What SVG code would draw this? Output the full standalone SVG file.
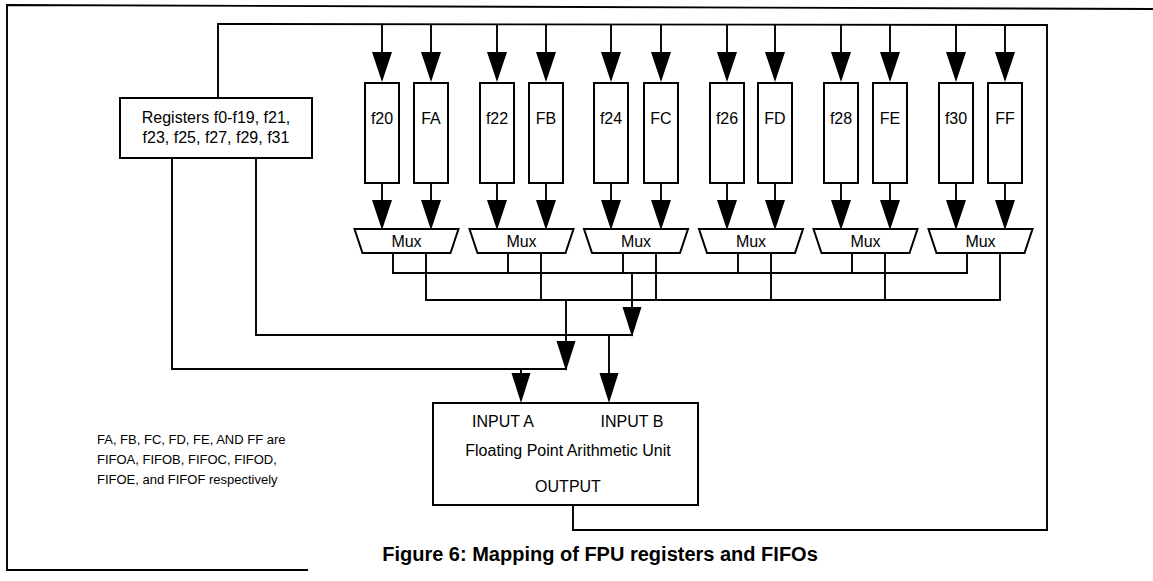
<svg xmlns="http://www.w3.org/2000/svg" xmlns:xlink="http://www.w3.org/1999/xlink" width="1153" height="581" viewBox="0 0 1153 581">
<style>
  .ln{fill:none;stroke:#000;stroke-width:1.9;stroke-linecap:square;stroke-linejoin:miter}
  .bx{fill:#fff;stroke:#000;stroke-width:2}
  .tx{font-family:"Liberation Sans",Arial,Helvetica,sans-serif;font-size:16px;fill:#000}
  .mid{text-anchor:middle}
  .note{font-family:"Liberation Sans",Arial,Helvetica,sans-serif;font-size:13px;fill:#000}
  .cap{font-family:"Liberation Sans",Arial,Helvetica,sans-serif;font-size:20px;font-weight:bold;fill:#000;text-anchor:middle}
  .ah{fill:#000}
</style>
<defs>
  <path id="ah" class="ah" d="M-10,0 L10,0 L0,30 Z"/>
  <path id="ahs" class="ah" d="M-9.5,0 L9.5,0 L0,30 Z"/>
</defs>
<rect width="1153" height="581" fill="#fff"/>

<g id="frame">
  <polyline class="ln" points="307,570 7,570 7,5 1153,9" stroke-width="2"/>
</g>

<g id="connectors">
  <!-- feedback loop from FPU output -->
  <polyline class="ln" points="573,505 573,530 1047,530 1047,25 218,24 218,98"/>
  <!-- top arrows into FIFOs -->
  <g>
    <line class="ln" x1="382" y1="25" x2="382" y2="52"/><use xlink:href="#ah" x="382" y="52"/>
    <line class="ln" x1="431" y1="25" x2="431" y2="52"/><use xlink:href="#ah" x="431" y="52"/>
    <line class="ln" x1="497" y1="25" x2="497" y2="52"/><use xlink:href="#ah" x="497" y="52"/>
    <line class="ln" x1="546" y1="25" x2="546" y2="52"/><use xlink:href="#ah" x="546" y="52"/>
    <line class="ln" x1="611" y1="25" x2="611" y2="52"/><use xlink:href="#ah" x="611" y="52"/>
    <line class="ln" x1="661" y1="25" x2="661" y2="52"/><use xlink:href="#ah" x="661" y="52"/>
    <line class="ln" x1="727" y1="25" x2="727" y2="52"/><use xlink:href="#ah" x="727" y="52"/>
    <line class="ln" x1="775" y1="25" x2="775" y2="52"/><use xlink:href="#ah" x="775" y="52"/>
    <line class="ln" x1="841" y1="25" x2="841" y2="52"/><use xlink:href="#ah" x="841" y="52"/>
    <line class="ln" x1="890" y1="25" x2="890" y2="52"/><use xlink:href="#ah" x="890" y="52"/>
    <line class="ln" x1="956" y1="25" x2="956" y2="52"/><use xlink:href="#ah" x="956" y="52"/>
    <line class="ln" x1="1005" y1="25" x2="1005" y2="52"/><use xlink:href="#ah" x="1005" y="52"/>
  </g>
  <!-- FIFO to mux arrows -->
  <g>
    <line class="ln" x1="382" y1="183" x2="382" y2="200"/><use xlink:href="#ah" x="382" y="200"/>
    <line class="ln" x1="431" y1="183" x2="431" y2="200"/><use xlink:href="#ah" x="431" y="200"/>
    <line class="ln" x1="497" y1="183" x2="497" y2="200"/><use xlink:href="#ah" x="497" y="200"/>
    <line class="ln" x1="546" y1="183" x2="546" y2="200"/><use xlink:href="#ah" x="546" y="200"/>
    <line class="ln" x1="611" y1="183" x2="611" y2="200"/><use xlink:href="#ah" x="611" y="200"/>
    <line class="ln" x1="661" y1="183" x2="661" y2="200"/><use xlink:href="#ah" x="661" y="200"/>
    <line class="ln" x1="727" y1="183" x2="727" y2="200"/><use xlink:href="#ah" x="727" y="200"/>
    <line class="ln" x1="775" y1="183" x2="775" y2="200"/><use xlink:href="#ah" x="775" y="200"/>
    <line class="ln" x1="841" y1="183" x2="841" y2="200"/><use xlink:href="#ah" x="841" y="200"/>
    <line class="ln" x1="890" y1="183" x2="890" y2="200"/><use xlink:href="#ah" x="890" y="200"/>
    <line class="ln" x1="956" y1="183" x2="956" y2="200"/><use xlink:href="#ah" x="956" y="200"/>
    <line class="ln" x1="1005" y1="183" x2="1005" y2="200"/><use xlink:href="#ah" x="1005" y="200"/>
  </g>
  <!-- mux outputs to buses -->
  <g>
    <polyline class="ln" points="393,253 393,273 967,273 967,253"/>
    <line class="ln" x1="508" y1="253" x2="508" y2="273"/>
    <line class="ln" x1="623" y1="253" x2="623" y2="273"/>
    <line class="ln" x1="738" y1="253" x2="738" y2="273"/>
    <line class="ln" x1="852" y1="253" x2="852" y2="273"/>
    <polyline class="ln" points="426,253 426,300 1000,300 1000,253"/>
    <line class="ln" x1="541" y1="253" x2="541" y2="300"/>
    <line class="ln" x1="656" y1="253" x2="656" y2="300"/>
    <line class="ln" x1="771" y1="253" x2="771" y2="300"/>
    <line class="ln" x1="885" y1="253" x2="885" y2="300"/>
  </g>
  <!-- bus 1 down, merged with registers right output, to INPUT B -->
  <line class="ln" x1="632" y1="273" x2="632" y2="307"/><use xlink:href="#ahs" x="632" y="307"/>
  <polyline class="ln" points="256,158 256,335 632,335"/>
  <line class="ln" x1="609" y1="335" x2="609" y2="373"/><use xlink:href="#ahs" x="609" y="373"/>
  <!-- bus 2 down, merged with registers left output, to INPUT A -->
  <line class="ln" x1="566" y1="300" x2="566" y2="341"/><use xlink:href="#ahs" x="566" y="341"/>
  <polyline class="ln" points="172,158 172,369 566,369"/>
  <line class="ln" x1="521" y1="369" x2="521" y2="373"/><use xlink:href="#ahs" x="521" y="373"/>
</g>

<g id="registers">
  <rect class="bx" x="120" y="98" width="192" height="60"/>
  <text class="tx mid" x="216" y="123">Registers f0-f19, f21,</text>
  <text class="tx mid" x="216" y="143">f23, f25, f27, f29, f31</text>
</g>

<g id="fifo-f20"><rect class="bx" x="365" y="83" width="34" height="100"/><text class="tx mid" x="382" y="124">f20</text></g>
<g id="fifo-FA"><rect class="bx" x="414" y="83" width="34" height="100"/><text class="tx mid" x="431" y="124">FA</text></g>
<g id="fifo-f22"><rect class="bx" x="480" y="83" width="34" height="100"/><text class="tx mid" x="497" y="124">f22</text></g>
<g id="fifo-FB"><rect class="bx" x="529" y="83" width="34" height="100"/><text class="tx mid" x="546" y="124">FB</text></g>
<g id="fifo-f24"><rect class="bx" x="594" y="83" width="34" height="100"/><text class="tx mid" x="611" y="124">f24</text></g>
<g id="fifo-FC"><rect class="bx" x="644" y="83" width="34" height="100"/><text class="tx mid" x="661" y="124">FC</text></g>
<g id="fifo-f26"><rect class="bx" x="710" y="83" width="34" height="100"/><text class="tx mid" x="727" y="124">f26</text></g>
<g id="fifo-FD"><rect class="bx" x="758" y="83" width="34" height="100"/><text class="tx mid" x="775" y="124">FD</text></g>
<g id="fifo-f28"><rect class="bx" x="824" y="83" width="34" height="100"/><text class="tx mid" x="841" y="124">f28</text></g>
<g id="fifo-FE"><rect class="bx" x="873" y="83" width="34" height="100"/><text class="tx mid" x="890" y="124">FE</text></g>
<g id="fifo-f30"><rect class="bx" x="939" y="83" width="34" height="100"/><text class="tx mid" x="956" y="124">f30</text></g>
<g id="fifo-FF"><rect class="bx" x="988" y="83" width="34" height="100"/><text class="tx mid" x="1005" y="124">FF</text></g>

<g id="mux1"><polygon class="bx" points="354.5,229 458.5,229 450.5,253 362.5,253"/><text class="tx mid" x="406.5" y="247">Mux</text></g>
<g id="mux2"><polygon class="bx" points="469.5,229 573.5,229 565.5,253 477.5,253"/><text class="tx mid" x="521.5" y="247">Mux</text></g>
<g id="mux3"><polygon class="bx" points="584,229 688,229 680,253 592,253"/><text class="tx mid" x="636" y="247">Mux</text></g>
<g id="mux4"><polygon class="bx" points="699,229 803,229 795,253 707,253"/><text class="tx mid" x="751" y="247">Mux</text></g>
<g id="mux5"><polygon class="bx" points="813.5,229 917.5,229 909.5,253 821.5,253"/><text class="tx mid" x="865.5" y="247">Mux</text></g>
<g id="mux6"><polygon class="bx" points="928.5,229 1032.5,229 1024.5,253 936.5,253"/><text class="tx mid" x="980.5" y="247">Mux</text></g>

<g id="fpu">
  <rect class="bx" x="433" y="403" width="265" height="102"/>
  <text class="tx mid" x="503" y="427">INPUT A</text>
  <text class="tx mid" x="632" y="427">INPUT B</text>
  <text class="tx mid" x="568" y="456">Floating Point Arithmetic Unit</text>
  <text class="tx mid" x="568" y="492">OUTPUT</text>
</g>

<g id="note">
  <text class="note" x="97" y="444">FA, FB, FC, FD, FE, AND FF are</text>
  <text class="note" x="97" y="464">FIFOA, FIFOB, FIFOC, FIFOD,</text>
  <text class="note" x="97" y="484">FIFOE, and FIFOF respectively</text>
</g>

<g id="caption">
  <text class="cap" x="600" y="561">Figure 6: Mapping of FPU registers and FIFOs</text>
</g>
</svg>
